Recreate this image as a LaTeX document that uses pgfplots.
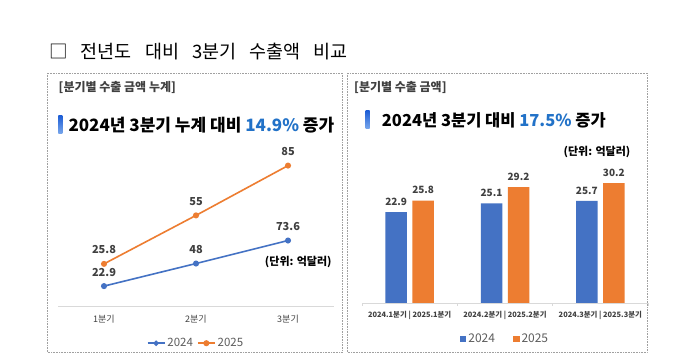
\documentclass[border=0pt]{standalone}
\usepackage{pgfplots}
\pgfplotsset{compat=1.18}
\usepackage{fontspec}
\setmainfont{Noto Sans CJK KR}
\definecolor{b24}{HTML}{4472C4}
\definecolor{o25}{HTML}{ED7D31}
\definecolor{txt}{HTML}{404040}
\definecolor{hl}{HTML}{2272C8}
\definecolor{gridc}{HTML}{D9D9D9}
\definecolor{frame}{HTML}{A0A0A0}
\definecolor{hbarA}{HTML}{1F5FD6}
\definecolor{hbarB}{HTML}{7AA8EC}
\pgfplotsset{/pgf/number format/assume math mode=true}

\begin{document}
\begin{tikzpicture}[x=1pt,y=1pt]
\fill[white] (0,0) rectangle (680,363);
% title
\node[anchor=west, inner sep=0, text=black] at (49,311.5) {\fontsize{18.5}{22}\selectfont □\hspace{9pt} 전년도\hspace{9pt} 대비\hspace{9pt} 3분기\hspace{9pt} 수출액\hspace{9pt} 비교};
% boxes
\draw[frame, densely dotted, line width=0.6pt] (47.3,290) rectangle (342,10.5);
\draw[frame, densely dotted, line width=0.6pt] (347.3,290) rectangle (647,10.5);
% subtitles
\node[anchor=west, inner sep=0, text=txt] at (58.5,275.3) {\fontsize{12}{13}\selectfont\bfseries [분기별 수출 금액 누계]};
\node[anchor=west, inner sep=0, text=txt] at (354,275.3) {\fontsize{12}{13}\selectfont\bfseries [분기별 수출 금액]};
% headings
\shade[top color=hbarA, bottom color=hbarB] (58.3,247) rectangle (62.3,229);
\node[anchor=west, inner sep=0, text=black] at (68.3,238) {\fontsize{17}{20}\selectfont\bfseries 2024년 3분기 누계 대비 \textcolor{hl}{14.9\%} 증가};
\shade[top color=hbarA, bottom color=hbarB] (365.5,252) rectangle (369.5,234);
\node[anchor=west, inner sep=0, text=black] at (381.7,243) {\fontsize{16.5}{20}\selectfont\bfseries 2024년 3분기 대비 \textcolor{hl}{17.5\%} 증가};
% units
\node[text=black] at (298.3,101) {\fontsize{11}{12}\selectfont\bfseries (단위: 억달러)};
\node[text=black] at (597,211) {\fontsize{11}{12}\selectfont\bfseries (단위: 억달러)};

% ---- line chart, 2024 (own scale)
\begin{axis}[at={(58pt,56.3pt)}, anchor=south west, scale only axis,
  width=276pt, height=166pt, xmin=0.5, xmax=3.5, ymin=0, ymax=184.6,
  axis x line*=bottom, axis y line=none,
  x axis line style={gridc, line width=1pt, -},
  xtick={1,2,3}, xticklabels={1분기,2분기,3분기}, major tick length=0,
  xticklabel style={anchor=center, yshift=-12.6pt, font=\fontsize{9}{10}\selectfont, text=txt},
  clip=false, nodes near coords,
  nodes near coords style={anchor=center, yshift=14pt, font=\fontsize{11}{12}\selectfont\bfseries, text=txt}]
\addplot[b24, line width=1.6pt, mark=*, mark size=2.2pt] coordinates {(1,22.9) (2,48) (3,73.6)};
\end{axis}
% ---- line chart, 2025 (own scale)
\begin{axis}[at={(58pt,56.3pt)}, anchor=south west, scale only axis,
  width=276pt, height=166pt, xmin=0.5, xmax=3.5, ymin=0, ymax=100,
  hide axis, clip=false, nodes near coords,
  nodes near coords style={anchor=center, yshift=14pt, font=\fontsize{11}{12}\selectfont\bfseries, text=txt},
  legend style={at={(0.5,-0.22)}, anchor=center, draw=none, fill=none, legend columns=2,
    font=\fontsize{11.5}{12}\selectfont, text=txt!85,
    /tikz/every even column/.append style={column sep=2pt}},
  legend cell align=left]
\addlegendimage{b24, line width=1.6pt, mark=*, mark size=1.8pt}
\addlegendentry{2024}
\addplot[o25, line width=1.6pt, mark=*, mark size=2.2pt] coordinates {(1,25.8) (2,55) (3,85)};
\addlegendentry{2025}
\end{axis}

% ---- bar chart
\begin{axis}[at={(362pt,60pt)}, anchor=south west, scale only axis,
  width=286pt, height=158.8pt, xmin=-0.5, xmax=2.5, ymin=0, ymax=40,
  ybar=5.5pt, bar width=21.5pt,
  axis x line*=bottom, axis y line=none,
  x axis line style={gridc, line width=0.8pt, -},
  xtick={0,1,2},
  xticklabels={2024.1분기 | 2025.1분기, 2024.2분기 | 2025.2분기, 2024.3분기 | 2025.3분기},
  major tick length=0,
  extra x ticks={-0.5,0.5,1.5,2.5}, extra x tick labels={},
  extra x tick style={major tick length=3pt, tick align=outside, tick style={gridc, line width=0.8pt}},
  xticklabel style={anchor=center, yshift=-12.7pt, font=\fontsize{7.4}{8}\selectfont\bfseries, text=txt},
  clip=false, nodes near coords,
  nodes near coords style={anchor=center, yshift=10.5pt, font=\fontsize{10}{11}\selectfont\bfseries, text=txt},
  legend image code/.code={\fill[#1] (0pt,-3.2pt) rectangle (6.5pt,3.2pt);},
  legend style={at={(0.5,-0.2286)}, anchor=center, draw=none, fill=none, legend columns=2,
    font=\fontsize{12}{13}\selectfont, text=txt!85,
    /tikz/every even column/.append style={column sep=16pt}}]
\addplot[fill=b24, draw=none] coordinates {(0,22.9) (1,25.1) (2,25.7)};
\addlegendentry{2024}
\addplot[fill=o25, draw=none] coordinates {(0,25.8) (1,29.2) (2,30.2)};
\addlegendentry{2025}
\end{axis}
\end{tikzpicture}
\end{document}
